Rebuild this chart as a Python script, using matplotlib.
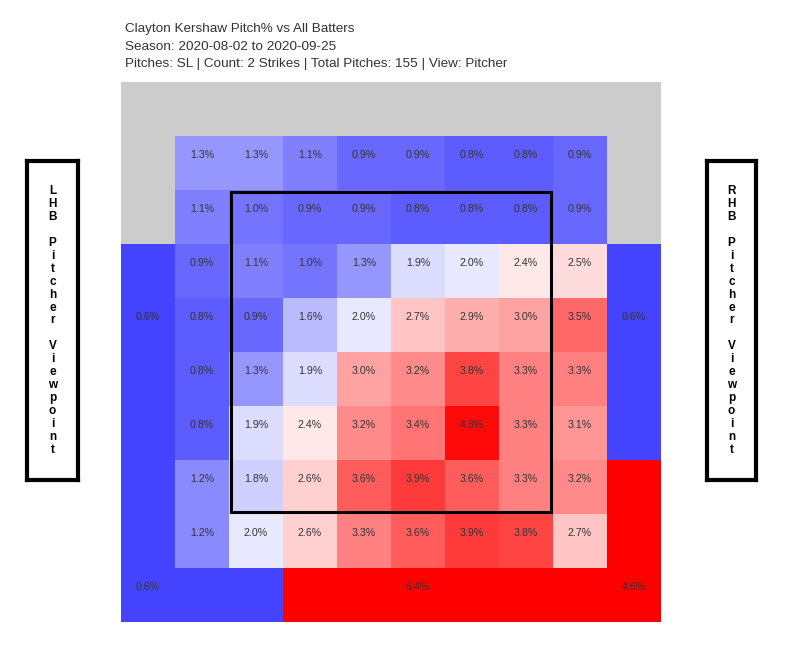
import numpy as np
import matplotlib
matplotlib.use("Agg")
import matplotlib.pyplot as plt
from matplotlib.colors import LinearSegmentedColormap
from matplotlib.patches import Rectangle

plt.rcParams['font.family'] = ['Liberation Sans', 'DejaVu Sans']

# Title lines
title_lines = [
    "Clayton Kershaw Pitch% vs All Batters",
    "Season: 2020-08-02 to 2020-09-25",
    "Pitches: SL | Count: 2 Strikes | Total Pitches: 155 | View: Pitcher",
]

# inner 8x8 zone grid (top row first), pitch %
inner = np.array([
    [1.3, 1.3, 1.1, 0.9, 0.9, 0.8, 0.8, 0.9],
    [1.1, 1.0, 0.9, 0.9, 0.8, 0.8, 0.8, 0.9],
    [0.9, 1.1, 1.0, 1.3, 1.9, 2.0, 2.4, 2.5],
    [0.8, 0.9, 1.6, 2.0, 2.7, 2.9, 3.0, 3.5],
    [0.8, 1.3, 1.9, 3.0, 3.2, 3.8, 3.3, 3.3],
    [0.8, 1.9, 2.4, 3.2, 3.4, 4.3, 3.3, 3.1],
    [1.2, 1.8, 2.6, 3.6, 3.9, 3.6, 3.3, 3.2],
    [1.2, 2.0, 2.6, 3.3, 3.6, 3.9, 3.8, 2.7],
])

# outer zones: name -> value (None = no data, shown gray)
outer_names = ["top", "left", "bottom_left", "bottom", "right", "bottom_right"]
outer_values = [None, 0.6, 0.6, 6.4, 0.6, 4.6]

# cells of each outer zone on the 10x10 grid (row, col ranges) and label cell
zone_cells = {
    "top": [(0, 1, 0, 10), (1, 3, 0, 1), (1, 3, 9, 10)],
    "left": [(3, 9, 0, 1)],
    "bottom_left": [(9, 10, 0, 3)],
    "bottom": [(9, 10, 3, 9)],
    "right": [(3, 7, 9, 10)],
    "bottom_right": [(7, 10, 9, 10)],
}
zone_label = {
    "left": (4, 0),
    "bottom_left": (9, 0),
    "bottom": (9, 5),
    "right": (4, 9),
    "bottom_right": (9, 9),
}

grid = np.full((10, 10), np.nan)
grid[1:9, 1:9] = inner
for name, val in zip(outer_names, outer_values):
    for r0, r1, c0, c1 in zone_cells[name]:
        grid[r0:r1, c0:c1] = np.nan if val is None else val

cmap = LinearSegmentedColormap.from_list("bwr_k", ["#0000ff", "#ffffff", "#ff0000"])
cmap.set_bad("#cccccc")

fig = plt.figure(figsize=(7.95, 6.6), dpi=100)
W, H = 795, 660

ax = fig.add_axes([121 / W, 1 - 622 / H, 540 / W, 540 / H])
ax.pcolormesh(np.arange(11), np.arange(11), np.ma.masked_invalid(grid),
              cmap=cmap, vmin=0, vmax=4.4)
ax.set_xlim(0, 10)
ax.set_ylim(10, 0)
ax.axis("off")

txt_kw = dict(ha="center", va="center", fontsize=7.7, color="#333333")
dy = -0.14
for i in range(8):
    for j in range(8):
        ax.text(j + 1.5, i + 1.5 + dy, f"{inner[i, j]:.1f}%", **txt_kw)
for name, val in zip(outer_names, outer_values):
    if val is None:
        continue
    r, c = zone_label[name]
    ax.text(c + 0.5, r + 0.5 + dy, f"{val:.1f}%", **txt_kw)

# strike zone
ax.add_patch(Rectangle((2.03, 2.03), 5.94, 5.94, fill=False, lw=2.2,
                       edgecolor="black"))

# titles
for k, line in enumerate(title_lines):
    fig.text(125 / W, 1 - (29 + k * 17.5) / H, line, ha="left", va="center",
             fontsize=9.7, color="#333333")

# side labels
def side_box(x0, x1, label):
    bx = fig.add_axes([x0 / W, 1 - 480 / H, (x1 - x0) / W, (480 - 161) / H])
    bx.set_xticks([])
    bx.set_yticks([])
    for s in bx.spines.values():
        s.set_linewidth(3)
    bx.text(0.5, 0.5, "\n".join(label), ha="center", va="center",
            fontsize=8.5, fontweight="bold", linespacing=1.11,
            transform=bx.transAxes)

side_box(27, 78, "LHB Pitcher Viewpoint")
side_box(707, 756, "RHB Pitcher Viewpoint")

fig.savefig("out.png", dpi=100)
